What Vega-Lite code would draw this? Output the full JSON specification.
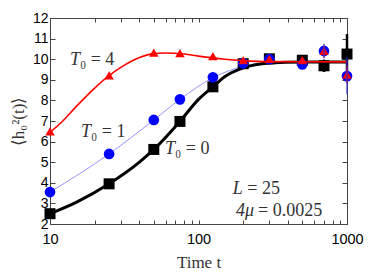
{
  "$schema": "https://vega.github.io/schema/vega-lite/v6.json",
  "width": 297,
  "height": 206,
  "autosize": "none",
  "padding": {"left": 50, "top": 18, "right": 35, "bottom": 52},
  "background": "white",
  "config": {"view": {"stroke": "#444", "strokeWidth": 1}},
  "datasets": {
    "pts": [
      {"t": 10, "v": 2.5, "s": "0"}, {"t": 25, "v": 3.95, "s": "0"}, {"t": 50, "v": 5.62, "s": "0"}, {"t": 75, "v": 6.98, "s": "0"}, {"t": 125, "v": 8.66, "s": "0"}, {"t": 200, "v": 9.78, "s": "0"}, {"t": 300, "v": 10.02, "s": "0"}, {"t": 500, "v": 9.95, "s": "0"}, {"t": 700, "v": 9.68, "s": "0", "lo": 9.38, "hi": 9.98}, {"t": 1000, "v": 10.25, "s": "0", "lo": 9.3, "hi": 11.22},
      {"t": 10, "v": 3.55, "s": "1"}, {"t": 25, "v": 5.4, "s": "1"}, {"t": 50, "v": 7.05, "s": "1"}, {"t": 75, "v": 8.05, "s": "1"}, {"t": 125, "v": 9.12, "s": "1"}, {"t": 200, "v": 9.8, "s": "1"}, {"t": 300, "v": 10.0, "s": "1"}, {"t": 500, "v": 9.75, "s": "1"}, {"t": 700, "v": 10.4, "s": "1", "lo": 10.05, "hi": 10.75}, {"t": 1000, "v": 9.18, "s": "1", "lo": 8.3, "hi": 10.1},
      {"t": 10, "v": 6.5, "s": "4"}, {"t": 25, "v": 9.22, "s": "4"}, {"t": 50, "v": 10.32, "s": "4"}, {"t": 75, "v": 10.3, "s": "4"}, {"t": 125, "v": 10.15, "s": "4"}, {"t": 200, "v": 9.95, "s": "4"}, {"t": 300, "v": 10.02, "s": "4"}, {"t": 500, "v": 9.95, "s": "4"}, {"t": 700, "v": 10.4, "s": "4", "lo": 10.1, "hi": 10.65}, {"t": 1000, "v": 9.25, "s": "4", "lo": 8.85, "hi": 9.7}
    ],
    "curves": [
      {"t": 10, "v": 2.5, "s": "0"}, {"t": 15, "v": 3.05, "s": "0"}, {"t": 25, "v": 3.95, "s": "0"}, {"t": 40, "v": 5.0, "s": "0"}, {"t": 50, "v": 5.62, "s": "0"}, {"t": 75, "v": 6.98, "s": "0"}, {"t": 100, "v": 8.05, "s": "0"}, {"t": 125, "v": 8.66, "s": "0"}, {"t": 150, "v": 9.15, "s": "0"}, {"t": 200, "v": 9.58, "s": "0"}, {"t": 300, "v": 9.82, "s": "0"}, {"t": 500, "v": 9.87, "s": "0"}, {"t": 1000, "v": 9.87, "s": "0"},
      {"t": 10, "v": 3.55, "s": "1"}, {"t": 25, "v": 5.4, "s": "1"}, {"t": 50, "v": 7.05, "s": "1"}, {"t": 75, "v": 8.05, "s": "1"}, {"t": 125, "v": 9.1, "s": "1"}, {"t": 200, "v": 9.65, "s": "1"}, {"t": 300, "v": 9.83, "s": "1"}, {"t": 500, "v": 9.87, "s": "1"}, {"t": 1000, "v": 9.87, "s": "1"},
      {"t": 10, "v": 6.45, "s": "4"}, {"t": 12, "v": 6.95, "s": "4"}, {"t": 15, "v": 7.7, "s": "4"}, {"t": 20, "v": 8.6, "s": "4"}, {"t": 25, "v": 9.2, "s": "4"}, {"t": 30, "v": 9.6, "s": "4"}, {"t": 40, "v": 10.08, "s": "4"}, {"t": 50, "v": 10.27, "s": "4"}, {"t": 60, "v": 10.3, "s": "4"}, {"t": 80, "v": 10.25, "s": "4"}, {"t": 100, "v": 10.15, "s": "4"}, {"t": 150, "v": 10.0, "s": "4"}, {"t": 200, "v": 9.93, "s": "4"}, {"t": 300, "v": 9.88, "s": "4"}, {"t": 1000, "v": 9.87, "s": "4"}
    ],
    "labels": [
      {"t": 15.9, "tb": 15.9, "v": 9.96, "a": "T", "b": "₀ = 4"},
      {"t": 18.9, "tb": 18.9, "v": 6.47, "a": "T", "b": "₀ = 1"},
      {"t": 69.5, "tb": 69.5, "v": 5.64, "a": "T", "b": "₀ = 0"},
      {"t": 199, "tb": 213, "v": 3.7, "a": "L", "b": "= 25"},
      {"t": 237, "tb": 252, "v": 2.63, "a": "4μ", "b": "= 0.0025"}
    ]
  },
  "resolve": {"axis": {"x": "independent", "y": "independent"}},
  "layer": [
    {
      "data": {"name": "curves"},
      "transform": [{"filter": "datum.s === '1'"}],
      "mark": {"type": "line", "color": "#7777ff", "strokeWidth": 0.8, "interpolate": "monotone"},
      "encoding": {
        "x": {"field": "t", "type": "quantitative", "scale": {"type": "log", "domain": [10, 1000]},
          "axis": {"orient": "bottom", "values": [10, 20, 30, 40, 50, 60, 70, 80, 90, 100, 200, 300, 400, 500, 600, 700, 800, 900, 1000],
            "labelExpr": "indexof([10,100,1000], datum.value) >= 0 ? datum.value : ''",
            "tickSize": -4, "tickColor": "#444", "domain": false, "grid": false,
            "labelFont": "Liberation Sans", "labelFontSize": 14.5, "labelColor": "#000", "labelPadding": 12, "labelFlush": false,
            "title": "Time t", "titleFont": "Liberation Serif", "titleFontSize": 17, "titleFontWeight": "normal", "titleColor": "#333", "titlePadding": 9}},
        "y": {"field": "v", "type": "quantitative", "scale": {"domain": [2, 12], "zero": false},
          "axis": {"orient": "left", "values": [2, 3, 4, 5, 6, 7, 8, 9, 10, 11, 12], "tickSize": -5, "tickColor": "#444", "domain": false, "grid": false,
            "labelFont": "Liberation Sans", "labelFontSize": 14, "labelColor": "#000", "labelPadding": 7,
            "title": "⟨h₀²(t)⟩", "titleFont": "Liberation Serif", "titleFontSize": 17, "titleFontWeight": "normal", "titleColor": "#333", "titlePadding": 5}}
      }
    },
    {
      "data": {"name": "curves"},
      "transform": [{"filter": "datum.s === '0'"}],
      "mark": {"type": "line", "color": "#000", "strokeWidth": 3, "interpolate": "monotone"},
      "encoding": {
        "x": {"field": "t", "type": "quantitative", "scale": {"type": "log", "domain": [10, 1000]},
          "axis": {"orient": "top", "values": [10, 20, 30, 40, 50, 60, 70, 80, 90, 100, 200, 300, 400, 500, 600, 700, 800, 900, 1000], "labels": false, "tickSize": -4, "tickColor": "#444", "domain": false, "grid": false, "title": null}},
        "y": {"field": "v", "type": "quantitative", "scale": {"domain": [2, 12], "zero": false},
          "axis": {"orient": "right", "values": [2, 3, 4, 5, 6, 7, 8, 9, 10, 11, 12], "labels": false, "tickSize": -5, "tickColor": "#444", "domain": false, "grid": false, "title": null}}
      }
    },
    {
      "data": {"name": "pts"},
      "transform": [{"filter": "datum.s === '0' && isValid(datum.lo)"}],
      "mark": {"type": "rule", "color": "#000", "strokeWidth": 2.5},
      "encoding": {
        "x": {"field": "t", "type": "quantitative", "scale": {"type": "log", "domain": [10, 1000]}, "axis": null},
        "y": {"field": "lo", "type": "quantitative", "axis": null},
        "y2": {"field": "hi"}
      }
    },
    {
      "data": {"name": "pts"},
      "transform": [{"filter": "datum.s === '0'"}],
      "mark": {"type": "point", "shape": "square", "filled": true, "opacity": 1, "color": "#000", "size": 121},
      "encoding": {
        "x": {"field": "t", "type": "quantitative", "scale": {"type": "log", "domain": [10, 1000]}, "axis": null},
        "y": {"field": "v", "type": "quantitative", "axis": null}
      }
    },
    {
      "data": {"name": "pts"},
      "transform": [{"filter": "datum.s === '1'"}],
      "mark": {"type": "point", "shape": "circle", "filled": true, "opacity": 1, "color": "#0000ff", "size": 115},
      "encoding": {
        "x": {"field": "t", "type": "quantitative", "scale": {"type": "log", "domain": [10, 1000]}, "axis": null},
        "y": {"field": "v", "type": "quantitative", "axis": null}
      }
    },
    {
      "data": {"name": "curves"},
      "transform": [{"filter": "datum.s === '4'"}],
      "mark": {"type": "line", "color": "#ff0000", "strokeWidth": 1.6, "interpolate": "monotone"},
      "encoding": {
        "x": {"field": "t", "type": "quantitative", "scale": {"type": "log", "domain": [10, 1000]}, "axis": null},
        "y": {"field": "v", "type": "quantitative", "axis": null}
      }
    },
    {
      "data": {"name": "pts"},
      "transform": [{"filter": "datum.s === '4'"}],
      "mark": {"type": "point", "shape": "triangle-up", "filled": true, "opacity": 1, "color": "#ff0000", "size": 90},
      "encoding": {
        "x": {"field": "t", "type": "quantitative", "scale": {"type": "log", "domain": [10, 1000]}, "axis": null},
        "y": {"field": "v", "type": "quantitative", "axis": null}
      }
    },
    {
      "data": {"name": "pts"},
      "transform": [{"filter": "datum.s === '4' && isValid(datum.lo)"}],
      "mark": {"type": "rule", "color": "#ff0000", "strokeWidth": 1.5},
      "encoding": {
        "x": {"field": "t", "type": "quantitative", "scale": {"type": "log", "domain": [10, 1000]}, "axis": null},
        "y": {"field": "lo", "type": "quantitative", "axis": null},
        "y2": {"field": "hi"}
      }
    },
    {
      "data": {"name": "pts"},
      "transform": [{"filter": "datum.s === '1' && isValid(datum.lo)"}],
      "mark": {"type": "rule", "color": "#3030cc", "strokeWidth": 1.2},
      "encoding": {
        "x": {"field": "t", "type": "quantitative", "scale": {"type": "log", "domain": [10, 1000]}, "axis": null},
        "y": {"field": "lo", "type": "quantitative", "axis": null},
        "y2": {"field": "hi"}
      }
    },
    {
      "data": {"name": "labels"},
      "mark": {"type": "text", "align": "right", "baseline": "middle", "font": "Liberation Serif", "fontSize": 18, "fontStyle": "italic", "color": "#333"},
      "encoding": {
        "x": {"field": "t", "type": "quantitative", "scale": {"type": "log", "domain": [10, 1000]}, "axis": null},
        "y": {"field": "v", "type": "quantitative", "axis": null},
        "text": {"field": "a"}
      }
    },
    {
      "data": {"name": "labels"},
      "mark": {"type": "text", "align": "left", "baseline": "middle", "font": "Liberation Serif", "fontSize": 18, "color": "#333"},
      "encoding": {
        "x": {"field": "tb", "type": "quantitative", "scale": {"type": "log", "domain": [10, 1000]}, "axis": null},
        "y": {"field": "v", "type": "quantitative", "axis": null},
        "text": {"field": "b"}
      }
    }
  ]
}
